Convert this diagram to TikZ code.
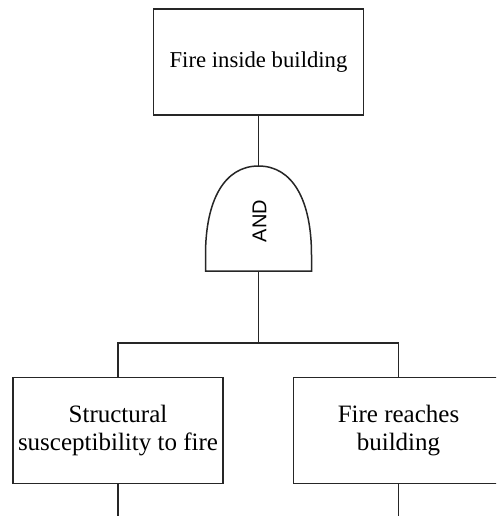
\documentclass[tikz,border=0pt]{standalone}
\usepackage{fontspec}
\setmainfont{Liberation Serif}
\newfontfamily\gatefont{Liberation Sans}
\begin{document}
\begin{tikzpicture}[x=1pt,y=-1pt,
  wire/.style={line width=1.5pt, draw=black!85},
  eventbox/.style={draw=black!85, line width=1.5pt, fill=white, minimum width=210pt, minimum height=106pt, inner sep=0pt, align=center},
  toptext/.style={font=\fontsize{22.7pt}{27pt}\selectfont},
  bottext/.style={font=\fontsize{25pt}{28pt}\selectfont},
  gatetext/.style={font=\gatefont\fontsize{20pt}{24pt}\selectfont, rotate=90, inner sep=0pt}]
\useasboundingbox (0,0) rectangle (496,516);
\clip (0,0) rectangle (496,516);
% top event
\node[eventbox, toptext] (top) at (258.5,62) {Fire inside building};
% AND gate
\coordinate (gtop) at (258.5,166);
\coordinate (gbl) at (205.5,271);
\coordinate (gbr) at (311.5,271);
\coordinate (gbot) at (258.5,271);
\draw[wire, fill=white] (gbl) -- (205.5,255) .. controls (205.5,200) and (224.5,166) .. (gtop)
  .. controls (292.5,166) and (311.5,200) .. (311.5,255) -- (gbr) -- cycle;
\node[gatetext] (and) at (259.5,221) {AND};
\draw[wire] (top.south) -- (gtop);
% junction
\coordinate (jun) at (258.5,343);
\coordinate (jl) at (118,343);
\coordinate (jr) at (398.5,343);
\draw[wire] (gbot) -- (jun);
% bottom events
\node[eventbox, bottext] (left) at (118,430.5) {Structural\\susceptibility to fire};
\node[eventbox, bottext] (right) at (398.5,430.5) {Fire reaches\\building};
\draw[wire] (left.north) -- (jl) -- (jr) -- (right.north);
\coordinate (lend) at (118,520);
\coordinate (rend) at (398.5,520);
\draw[wire] (left.south) -- (lend);
\draw[wire] (right.south) -- (rend);
\end{tikzpicture}
\end{document}
